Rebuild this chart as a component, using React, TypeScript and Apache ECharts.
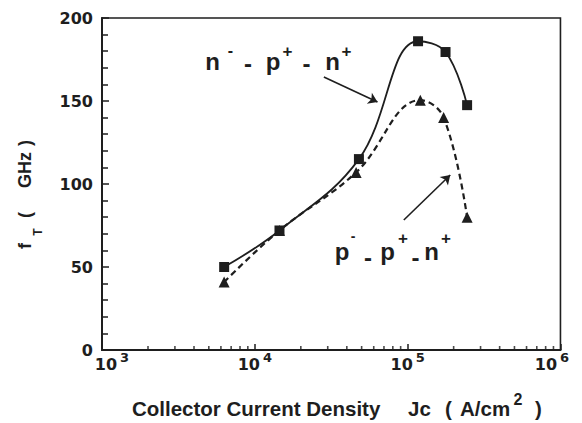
import { useEffect, useRef } from "react";
import * as echarts from "echarts";

// ---- data ----
const npnJc = [6300, 14500, 48000, 117000, 177000, 245000];
const npnFt = [50, 72, 115, 186, 179.5, 147.5];
const ppnJc = [6300, 14500, 46000, 121000, 172000, 245000];
const ppnFt = [41, 72, 107, 150.5, 140, 80];

const yTicks = [0, 50, 100, 150, 200];
const xDecadeExponents = [3, 4, 5, 6];
const xMinorTicks = [
  2000, 3000, 4000, 5000, 6000, 7000, 8000, 9000,
  20000, 30000, 40000, 50000, 60000, 70000, 80000, 90000,
  200000, 300000, 400000, 500000, 600000, 700000, 800000, 900000,
];

// annotation arrows, in data coordinates [Jc, fT]
const arrowNpn = [[28300, 164.5], [63500, 149.4]];
const arrowPpn = [[94400, 78.3], [190000, 105.4]];

const INK = "#1e1e1e";
const NUM_FONT = "DejaVu Sans";
const TXT_FONT = "Liberation Sans";

function txt(text: string, x: number, y: number, size: number, align = "center", rotation = 0) {
  return {
    type: "text",
    x,
    y,
    rotation,
    silent: true,
    style: {
      text,
      fontFamily: TXT_FONT,
      fontWeight: "bold",
      fontSize: size,
      fill: INK,
      align,
      verticalAlign: "middle",
      textAlign: align,
      textVerticalAlign: "middle",
    },
  };
}

export default function App() {
  const ref = useRef<HTMLDivElement>(null);
  useEffect(() => {
    if (!ref.current) return;
    const chart = echarts.init(ref.current, undefined, { renderer: "svg" });
    const R = Math.PI / 2;
    const option = {
      animation: false,
      backgroundColor: "#ffffff",
      grid: {
        left: 102,
        right: 9,
        top: 18,
        bottom: 73,
        show: true,
        borderColor: INK,
        borderWidth: 1.6,
        backgroundColor: "transparent",
      },
      xAxis: {
        type: "log",
        logBase: 10,
        min: 1000,
        max: 1000000,
        splitNumber: 3,
        axisLine: { show: true, lineStyle: { color: INK, width: 2 } },
        axisTick: { show: true, inside: true, length: 6, lineStyle: { color: INK, width: 1.5 } },
        splitLine: { show: false },
        axisLabel: {
          margin: 1,
          formatter: (v: number) => {
            const e = Math.round(Math.log10(v));
            if (!xDecadeExponents.includes(e)) return "";
            if (e === 3) return `{spl| }{b|10}{s|${e}}`;
            if (e === 6) return `{b|10}{s|${e}}{spr| }`;
            return `{b|10}{s|${e}}`;
          },
          rich: {
            b: { fontFamily: NUM_FONT, fontWeight: "bold", fontSize: 16, color: INK, lineHeight: 26 },
            s: {
              fontFamily: NUM_FONT,
              fontWeight: "bold",
              fontSize: 13,
              color: INK,
              lineHeight: 13,
              verticalAlign: "top",
              padding: [0, 0, 0, 3],
            },
            spl: { width: 20, fontSize: 10 },
            spr: { width: 17, fontSize: 10 },
          },
        },
      },
      yAxis: {
        type: "value",
        min: 0,
        max: 200,
        interval: 50,
        axisLine: { show: true, lineStyle: { color: INK, width: 2 } },
        axisTick: { show: true, inside: true, length: 7, lineStyle: { color: INK, width: 1.5 } },
        minorTick: { show: true, splitNumber: 5, length: 6, lineStyle: { color: INK, width: 1.5 } },
        splitLine: { show: false },
        axisLabel: {
          margin: 9,
          color: INK,
          fontFamily: NUM_FONT,
          fontWeight: "bold",
          fontSize: 16,
          formatter: (v: number) => (yTicks.includes(v) ? String(v) : ""),
        },
      },
      series: [
        {
          name: "n- p+ n+",
          type: "line",
          data: npnJc.map((x, i) => [x, npnFt[i]]),
          smooth: 0.4,
          symbol: "rect",
          symbolSize: 10,
          itemStyle: { color: INK },
          lineStyle: { color: INK, width: 1.8, type: "solid" },
          z: 3,
          markLine: {
            silent: true,
            symbol: ["none", "arrow"],
            symbolSize: 9,
            label: { show: false },
            lineStyle: { color: INK, width: 1.6, type: "solid" },
            data: [
              [{ coord: arrowNpn[0] }, { coord: arrowNpn[1] }],
              [{ coord: arrowPpn[0] }, { coord: arrowPpn[1] }],
            ],
          },
        },
        {
          name: "p- p+ n+",
          type: "line",
          data: ppnJc.map((x, i) => [x, ppnFt[i]]),
          smooth: 0.4,
          symbol: "triangle",
          symbolSize: 11,
          itemStyle: { color: INK },
          lineStyle: { color: INK, width: 2.2, type: [6, 4] },
          z: 3,
        },
        {
          name: "minor ticks",
          type: "scatter",
          data: xMinorTicks.map((x) => [x, 0]),
          symbol: "rect",
          symbolSize: [1.6, 4],
          symbolOffset: [0, -2],
          itemStyle: { color: INK },
          silent: true,
          clip: false,
          z: 4,
        },
      ],
      graphic: [
        // n- p+ n+ annotation
        txt("n", 212.5, 61.5, 24),
        txt("-", 230.5, 50, 16),
        txt("-", 248, 63, 24),
        txt("p", 273, 61.5, 24),
        txt("+", 287.5, 51, 17),
        txt("-", 306.5, 63, 24),
        txt("n", 332.5, 61.5, 24),
        txt("+", 346.5, 51, 17),
        // p- p+ n+ annotation
        txt("p", 342, 251, 24),
        txt("-", 353, 236, 14),
        txt("-", 368, 257.5, 24),
        txt("p", 387.5, 251, 24),
        txt("+", 403, 238, 17),
        txt("-", 415.5, 257.5, 24),
        txt("n", 431.5, 251, 24),
        txt("+", 446, 238, 17),
        // x axis title
        txt("Collector Current Density", 132, 408, 20.5, "left"),
        txt("Jc", 408, 408, 20.5, "left"),
        txt("(", 448.5, 408, 20.5),
        txt("A/cm", 460, 408, 20.5, "left"),
        txt("2", 518, 399, 16),
        txt(")", 538.5, 408, 20.5),
        // y axis title (rotated)
        txt(")", 25, 143, 18, "center", R),
        txt("GHz", 25, 170, 18, "center", R),
        txt("(", 25, 215, 18, "center", R),
        txt("T", 38, 232, 12, "center", R),
        txt("f", 25, 246, 18, "center", R),
      ],
    };
    chart.setOption(option as any);
    return () => chart.dispose();
  }, []);
  return (
    <div
      ref={ref}
      style={{ position: "fixed", left: 0, top: 0, width: 582, height: 423, background: "#fff" }}
    />
  );
}
